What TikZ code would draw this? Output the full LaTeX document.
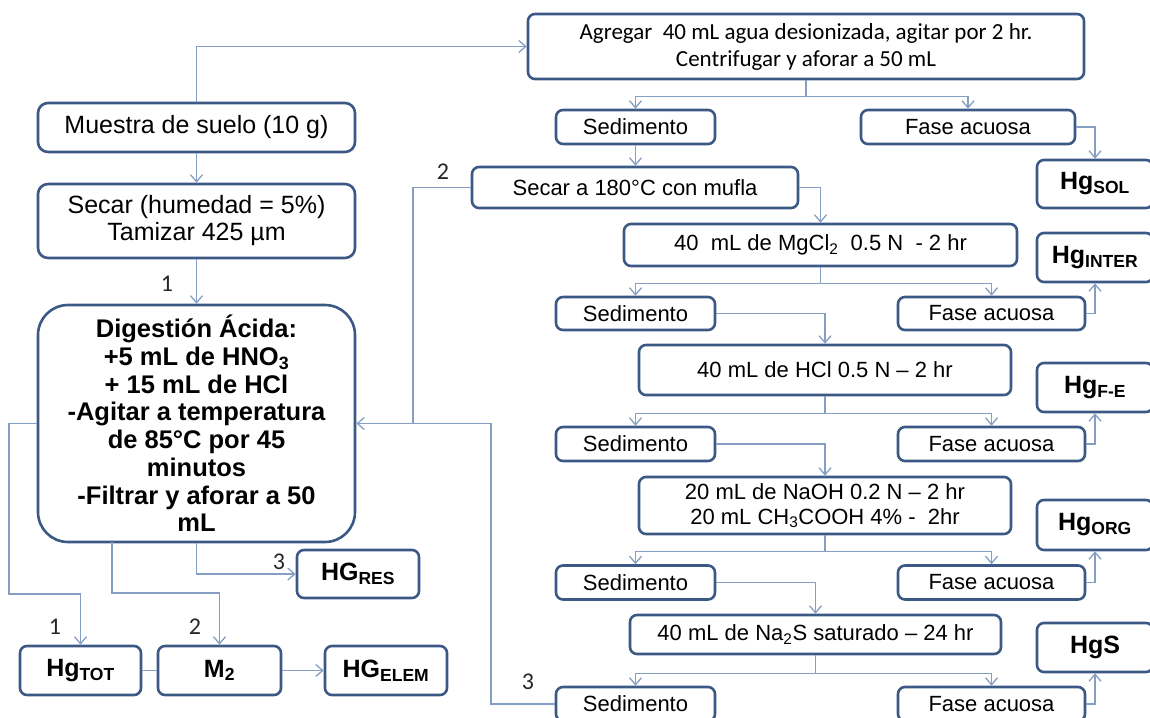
\documentclass[tikz,border=0pt]{standalone}
\usepackage{fontspec}
\setmainfont{Liberation Sans}
\newfontfamily\calfont{Carlito}
\usetikzlibrary{arrows.meta}

\definecolor{boxblue}{RGB}{59,89,132}
\definecolor{linkblue}{RGB}{132,158,196}

\tikzset{every picture/.style={line width=0.75pt}}
\tikzset{
	stepbox/.style={draw=boxblue,line width=2.6pt,fill=white,rounded corners=7pt,inner sep=0pt,align=center,font=\fontsize{22}{25}\selectfont},
	bigbox/.style={stepbox,rounded corners=10pt,font=\fontsize{25}{27}\selectfont},
	hgbox/.style={stepbox,font=\bfseries\fontsize{25}{27}\selectfont},
	link/.style={draw=linkblue,line width=1.3pt},
	arr/.style={link,-{Straight Barb[length=7pt,width=12pt,line width=1.3pt]}},
	numlab/.style={font=\calfont\fontsize{24}{26}\selectfont,text=black!85}
}

\begin{document}
\begin{tikzpicture}[x=1pt,y=1pt,yscale=-1,xscale=1]
	\useasboundingbox (0,0) rectangle (1150,717);
	\clip (0,0) rectangle (1150,717);

	%Left column
	\node[bigbox,minimum width=317pt,minimum height=49pt] (muestra) at (196.5,127.5) {Muestra de suelo (10 g)};
	\node[bigbox,minimum width=317pt,minimum height=74pt] (secar) at (196.5,221) {Secar (humedad = 5\%)\\Tamizar 425 µm};
	\node[stepbox,rounded corners=30pt,minimum width=317pt,minimum height=237pt,font=\bfseries\fontsize{25.5}{27.7}\selectfont] (dig) at (196.5,423.5) {Digestión Ácida:\\+5 mL de HNO\textsubscript{3}\\+ 15 mL de HCl\\-Agitar a temperatura\\de 85°C por 45\\minutos\\-Filtrar y aforar a 50\\mL};

	%Bottom left results
	\node[hgbox,minimum width=121pt,minimum height=49pt] (hgtot) at (80.5,670.5) {Hg\textsubscript{TOT}};
	\node[hgbox,minimum width=123pt,minimum height=49pt] (m2) at (219.5,670.5) {M\textsubscript{2}};
	\node[hgbox,minimum width=122pt,minimum height=49pt] (hgelem) at (386,670.5) {HG\textsubscript{ELEM}};
	\node[hgbox,minimum width=122pt,minimum height=48pt] (hgres) at (358,574) {HG\textsubscript{RES}};

	%Right column
	\node[stepbox,minimum width=556pt,minimum height=65pt,font=\calfont\fontsize{23}{27}\selectfont] (agregar) at (806,46.5) {Agregar \ 40 mL agua desionizada, agitar por 2 hr.\\Centrifugar y aforar a 50 mL};
	\node[stepbox,minimum width=159pt,minimum height=34pt] (sed1) at (635.5,127) {Sedimento};
	\node[stepbox,minimum width=214pt,minimum height=34pt] (fase1) at (968,127) {Fase acuosa};
	\node[stepbox,minimum width=326pt,minimum height=41pt] (sec180) at (635,187.5) {Secar a 180°C con mufla};
	\node[stepbox,minimum width=393pt,minimum height=42pt] (mgcl) at (820.5,245) {40 \ mL de MgCl\textsubscript{2} \ 0.5 N \ - 2 hr};
	\node[stepbox,minimum width=159pt,minimum height=33pt] (sed2) at (635.5,313.5) {Sedimento};
	\node[stepbox,minimum width=187pt,minimum height=33pt] (fase2) at (991.5,313.5) {Fase acuosa};
	\node[stepbox,minimum width=372pt,minimum height=50pt] (hcl) at (825,370) {40 mL de HCl 0.5 N -- 2 hr};
	\node[stepbox,minimum width=159pt,minimum height=34pt] (sed3) at (635.5,444) {Sedimento};
	\node[stepbox,minimum width=187pt,minimum height=34pt] (fase3) at (991.5,444) {Fase acuosa};
	\node[stepbox,minimum width=372pt,minimum height=57pt] (naoh) at (825,505.5) {20 mL de NaOH 0.2 N -- 2 hr\\20 mL CH\textsubscript{3}COOH 4\% - \ 2hr};
	\node[stepbox,minimum width=159pt,minimum height=34pt] (sed4) at (635.5,582.5) {Sedimento};
	\node[stepbox,minimum width=187pt,minimum height=34pt] (fase4) at (991.5,582.5) {Fase acuosa};
	\node[stepbox,minimum width=371pt,minimum height=39pt] (na2s) at (815.5,634.5) {40 mL de Na\textsubscript{2}S saturado -- 24 hr};
	\node[stepbox,minimum width=159pt,minimum height=34pt] (sed5) at (635.5,704) {Sedimento};
	\node[stepbox,minimum width=187pt,minimum height=34pt] (fase5) at (991.5,704) {Fase acuosa};

	%Hg fractions
	\node[hgbox,minimum width=116pt,minimum height=48pt] (hgsol) at (1095,184) {Hg\textsubscript{SOL}};
	\node[hgbox,minimum width=116pt,minimum height=49pt] (hginter) at (1095,257.5) {Hg\textsubscript{INTER}};
	\node[hgbox,minimum width=116pt,minimum height=49pt] (hgfe) at (1095,387.5) {Hg\textsubscript{F-E}};
	\node[hgbox,minimum width=116pt,minimum height=50pt] (hgorg) at (1095,525) {Hg\textsubscript{ORG}};
	\node[hgbox,minimum width=116pt,minimum height=49pt] (hgs) at (1095,647.5) {HgS};

	%Helper points
	\coordinate (j2) at (413,423.5);
	\coordinate (j3) at (491,423.5);
	\coordinate (l1) at (9,594);
	\coordinate (d2) at (112,542);
	\coordinate (l2) at (112,593);

	%Connectors, left
	\draw[arr] (muestra.north) |- (agregar.west);
	\draw[arr] (muestra.south) -- (secar.north);
	\draw[arr] (secar.south) -- (dig.north);
	\draw[link] (sec180.west) -| (j2);
	\draw[arr] (sed5.west) -| (j3) -- (dig.east);
	\draw[arr] (dig.west) -| (l1) -| (hgtot.north);
	\draw[arr] (d2) -- (l2) -| (m2.north);
	\draw[arr] (dig.south) |- (hgres.west);
	\draw[link] (hgtot) -- (m2);
	\draw[arr] (m2) -- (hgelem);

	%Connectors, right
	\draw[arr] (agregar.south) -- ++(0,16) -| (sed1.north);
	\draw[arr] (agregar.south) ++(0,16) -| (fase1.north);
	\draw[arr] (sed1.south) -- (sed1.south |- sec180.north);
	\draw[arr] (fase1.east) -| (hgsol.north);
	\draw[arr] (sec180.east) -| (mgcl.north);
	\draw[arr] (mgcl.south) -- ++(0,16) -| (sed2.north);
	\draw[arr] (mgcl.south) ++(0,16) -| (fase2.north);
	\draw[arr] (fase2.east) -| (hginter.south);
	\draw[arr] (sed2.east) -| (hcl.north);
	\draw[arr] (hcl.south) -- ++(0,17) -| (sed3.north);
	\draw[arr] (hcl.south) ++(0,17) -| (fase3.north);
	\draw[arr] (fase3.east) -| (hgfe.south);
	\draw[arr] (sed3.east) -| (naoh.north);
	\draw[arr] (naoh.south) -- ++(0,16) -| (sed4.north);
	\draw[arr] (naoh.south) ++(0,16) -| (fase4.north);
	\draw[arr] (fase4.east) -| (hgorg.south);
	\draw[arr] (sed4.east) -| (na2s.north);
	\draw[arr] (na2s.south) -- ++(0,18) -| (sed5.north);
	\draw[arr] (na2s.south) ++(0,18) -| (fase5.north);
	\draw[arr] (fase5.east) -| (hgs.south);

	% Text Node
	\node[numlab] (n1a) at (167,284) {1};
	\node[numlab] (n2a) at (443,172) {2};
	\node[numlab] (n3a) at (528,682) {3};
	\node[numlab] (n1b) at (55,627) {1};
	\node[numlab] (n2b) at (195,627) {2};
	\node[numlab] (n3b) at (279,562) {3};

\end{tikzpicture}
\end{document}
